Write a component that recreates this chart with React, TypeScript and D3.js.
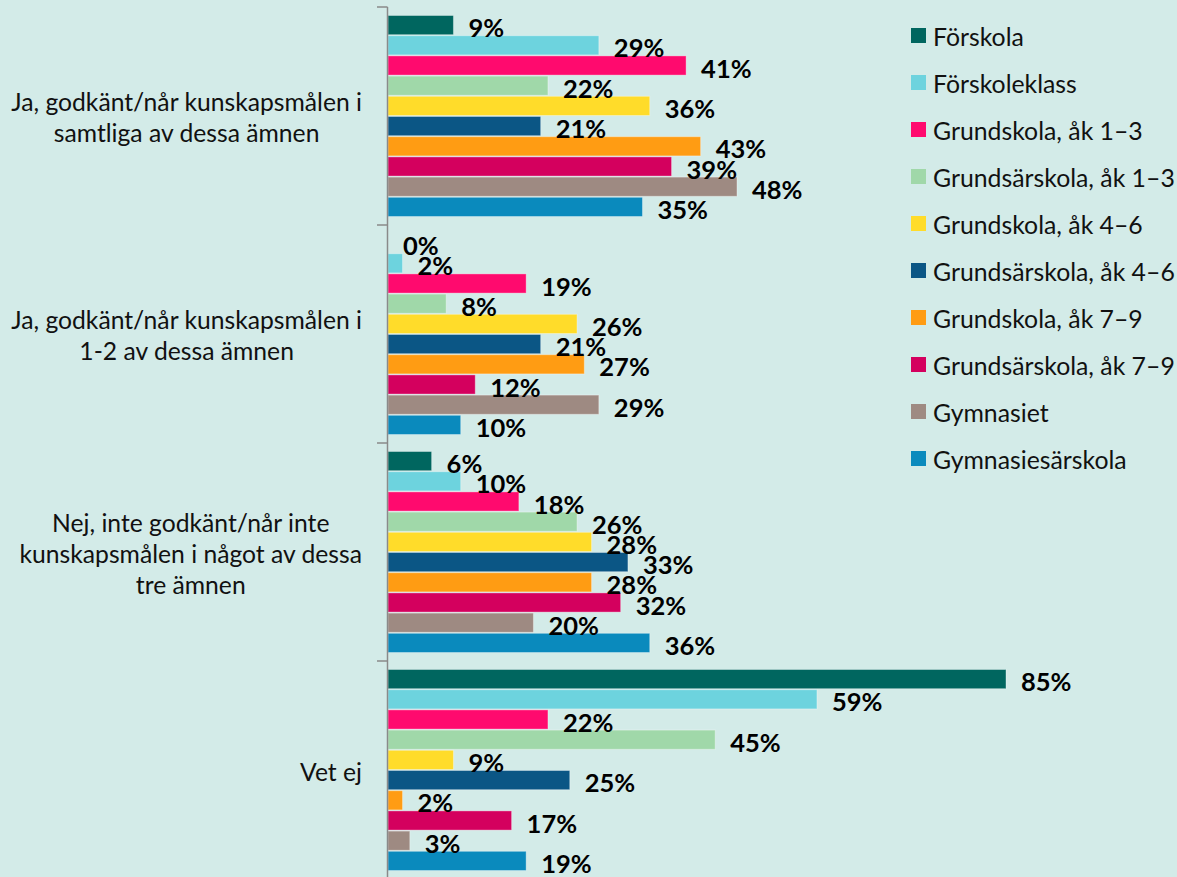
import React, { useEffect, useRef } from "react";
import * as d3 from "d3";

const categories: string[][] = [
  ["Ja, godkänt/når kunskapsmålen i", "samtliga av dessa ämnen"],
  ["Ja, godkänt/når kunskapsmålen i", "1-2 av dessa ämnen"],
  ["Nej, inte godkänt/når inte", "kunskapsmålen i något av dessa", "tre ämnen"],
  ["Vet ej"],
];

const seriesNames: string[] = [
  "Förskola",
  "Förskoleklass",
  "Grundskola, åk 1–3",
  "Grundsärskola, åk 1–3",
  "Grundskola, åk 4–6",
  "Grundsärskola, åk 4–6",
  "Grundskola, åk 7–9",
  "Grundsärskola, åk 7–9",
  "Gymnasiet",
  "Gymnasiesärskola",
];

const seriesColors: string[] = [
  "#00665f",
  "#6dd3de",
  "#ff0a6e",
  "#a0d8a9",
  "#ffdc2a",
  "#0b5685",
  "#ff9c13",
  "#d4005e",
  "#9e8a82",
  "#0a8abd",
];

// values per series, one per category, percent
const forskola = [9, 0, 6, 85];
const forskoleklass = [29, 2, 10, 59];
const grund13 = [41, 19, 18, 22];
const grundsar13 = [22, 8, 26, 45];
const grund46 = [36, 26, 28, 9];
const grundsar46 = [21, 21, 33, 25];
const grund79 = [43, 27, 28, 2];
const grundsar79 = [39, 12, 32, 17];
const gymnasiet = [48, 29, 20, 3];
const gymnasiesar = [35, 10, 36, 19];

const seriesValues: number[][] = [
  forskola,
  forskoleklass,
  grund13,
  grundsar13,
  grund46,
  grundsar46,
  grund79,
  grundsar79,
  gymnasiet,
  gymnasiesar,
];

const W = 1177;
const H = 877;
const FONT = "Lato, 'Open Sans', sans-serif";

export default function App() {
  const ref = useRef<SVGSVGElement | null>(null);

  useEffect(() => {
    const svg = d3.select(ref.current);
    svg.selectAll("*").remove();

    svg.append("rect").attr("width", W).attr("height", H).attr("fill", "#d3ebe8");

    const axisX = 388;
    const x = d3.scaleLinear().domain([0, 85]).range([axisX, 1006]);
    const catIdx = categories.map((_, i) => i);
    const y0 = d3.scaleBand<number>().domain(catIdx).range([7, 879]).paddingInner(0).paddingOuter(0);
    const band = y0.bandwidth();
    const inset = 8;
    const y1 = d3
      .scaleBand<number>()
      .domain(seriesNames.map((_, i) => i))
      .range([inset, band - inset])
      .padding(0);

    const g = svg.append("g");

    // bars
    catIdx.forEach((ci) => {
      const cg = g.append("g").attr("transform", `translate(0,${y0(ci)})`);
      seriesNames.forEach((_, si) => {
        const v = seriesValues[si][ci];
        const yy = y1(si)!;
        const bh = y1.bandwidth();
        cg.append("rect")
          .attr("x", x(0))
          .attr("y", yy + 0.5)
          .attr("width", Math.max(0, x(v) - x(0)))
          .attr("height", bh - 1)
          .attr("fill", seriesColors[si])
          .attr("stroke", "rgba(255,255,255,0.35)")
          .attr("stroke-width", 1);
      });
      seriesNames.forEach((_, si) => {
        const v = seriesValues[si][ci];
        const yy = y1(si)!;
        const bh = y1.bandwidth();
        cg.append("text")
          .attr("x", x(v) + 15)
          .attr("y", yy + bh / 2 + 2)
          .attr("dominant-baseline", "central")
          .attr("font-family", FONT)
          .attr("font-weight", 700)
          .attr("font-size", 25.5)
          .attr("fill", "#000")
          .text(`${Math.round(v)}%`);
      });
    });

    // axis line and ticks
    const axisG = svg.append("g").attr("stroke", "#8a8a8a").attr("stroke-width", 1.5);
    axisG.append("line").attr("x1", axisX - 0.5).attr("x2", axisX - 0.5).attr("y1", 7).attr("y2", H);
    catIdx.forEach((ci) => {
      const ty = y0(ci)!;
      axisG.append("line").attr("x1", axisX - 11).attr("x2", axisX - 0.5).attr("y1", ty).attr("y2", ty);
    });

    // category labels
    const lineH = 31;
    const labelRight = 362;
    catIdx.forEach((ci) => {
      const lines = categories[ci];
      const cy = y0(ci)! + band / 2 + 1;
      const tg = svg.append("g");
      const texts = lines.map((ln, li) =>
        tg
          .append("text")
          .attr("y", cy + (li - (lines.length - 1) / 2) * lineH)
          .attr("dominant-baseline", "central")
          .attr("text-anchor", "middle")
          .attr("font-family", FONT)
          .attr("font-size", 24.7)
          .attr("fill", "#111")
          .text(ln)
      );
      const maxW = d3.max(texts, (t) => (t.node() as SVGTextElement).getComputedTextLength()) || 0;
      texts.forEach((t) => t.attr("x", labelRight - maxW / 2));
    });

    // legend
    const lg = svg.append("g").attr("transform", "translate(911,28)");
    seriesNames.forEach((name, si) => {
      const it = lg.append("g").attr("transform", `translate(0,${si * 47})`);
      it.append("rect").attr("width", 15).attr("height", 15).attr("fill", seriesColors[si]);
      it.append("text")
        .attr("x", 22)
        .attr("y", 8)
        .attr("dominant-baseline", "central")
        .attr("font-family", FONT)
        .attr("font-size", 24.8)
        .attr("fill", "#111")
        .text(name);
    });
  }, []);

  return (
    <svg
      ref={ref}
      width={W}
      height={H}
      style={{ position: "absolute", left: 0, top: 0, display: "block" }}
    />
  );
}
